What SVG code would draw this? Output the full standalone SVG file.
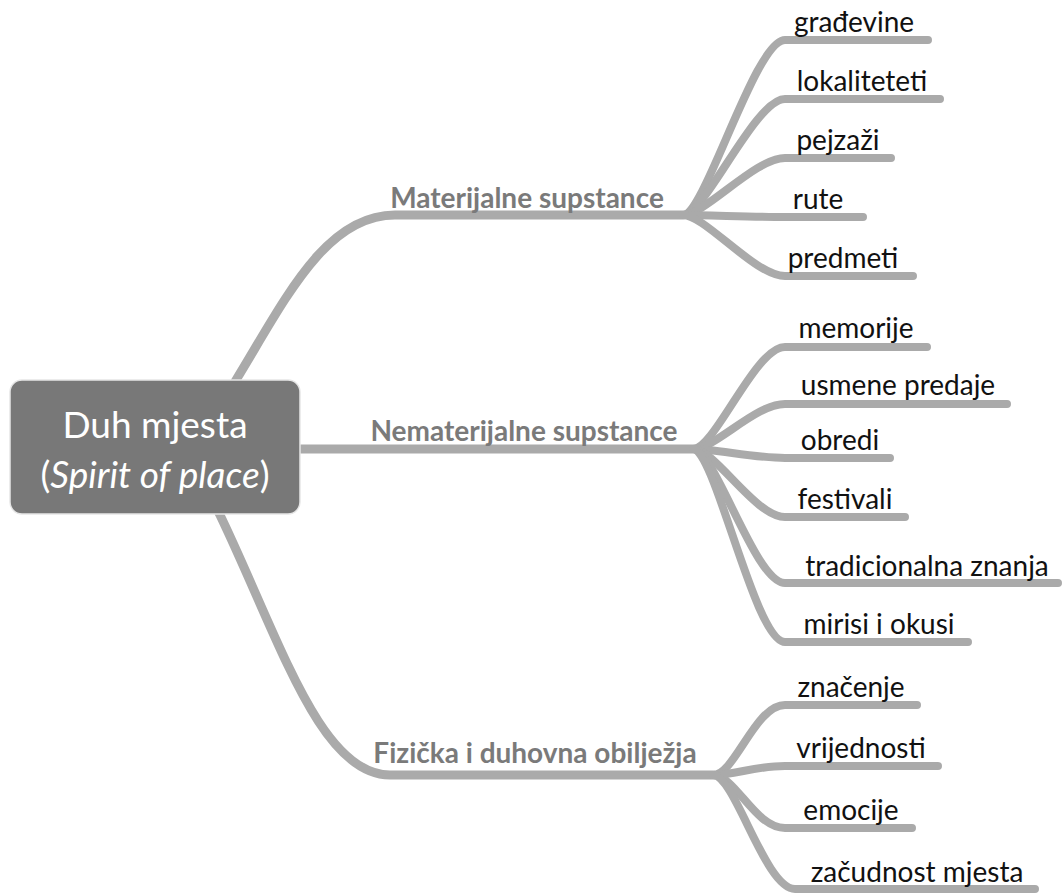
<svg xmlns="http://www.w3.org/2000/svg" width="1062" height="894" viewBox="0 0 1062 894">
<style>
.main{fill:none;stroke:#aaaaaa;stroke-width:9;stroke-linecap:round;stroke-linejoin:round}
.sub{fill:none;stroke:#aaaaaa;stroke-width:8;stroke-linecap:round;stroke-linejoin:round}
.l1{font-family:Lato,"Liberation Sans",sans-serif;font-weight:bold;font-size:28px;fill:#7a7a7a;text-anchor:middle}
.l2{font-family:Lato,"Liberation Sans",sans-serif;font-size:28px;fill:#111111;text-anchor:middle}
.root{font-family:Lato,"Liberation Sans",sans-serif;font-size:37px;fill:#ffffff;text-anchor:middle}
</style>
<rect width="1062" height="894" fill="#ffffff"/>
<g id="connectors">
<path class="main" d="M230 390 L236 380 C285 300 325 215 395 215 L683 215"/>
<path class="main" d="M290 449 L693 449"/>
<path class="main" d="M215 505 L220 515 C280 640 320 775 390 775 L713 775"/>
<path class="sub" d="M683 215 C705 215 755 40 785 40 L928 40"/>
<path class="sub" d="M683 215 C705 215 755 99 785 99 L940 99"/>
<path class="sub" d="M683 215 C705 215 755 158 785 158 L891 158"/>
<path class="sub" d="M683 215 C705 215 755 217 785 217 L863 217"/>
<path class="sub" d="M683 215 C705 215 755 276 785 276 L913 276"/>
<path class="sub" d="M693 449 C715 449 755 347 785 347 L927 347"/>
<path class="sub" d="M693 449 C715 449 755 404 785 404 L1007 404"/>
<path class="sub" d="M693 449 C715 449 755 458 785 458 L890 458"/>
<path class="sub" d="M693 449 C715 449 755 517 785 517 L905 517"/>
<path class="sub" d="M693 449 C715 449 755 583 785 583 L1058 583"/>
<path class="sub" d="M693 449 C715 449 755 642 785 642 L968 642"/>
<path class="sub" d="M713 775 C735 775 755 705 785 705 L917 705"/>
<path class="sub" d="M713 775 C735 775 755 766 785 766 L938 766"/>
<path class="sub" d="M713 775 C735 775 755 828 785 828 L912 828"/>
<path class="sub" d="M713 775 C735 775 765 889 795 889 L1035 889"/>
</g>
<g id="root">
<rect x="10" y="380" width="290" height="134" rx="12" fill="#787878" stroke="#e6e6e6" stroke-width="1.5"/>
<text class="root" x="155" y="438">Duh mjesta</text>
<text class="root" x="155" y="488">(<tspan font-style="italic">Spirit of place</tspan>)</text>
</g>
<g id="n-materijalne"><text class="l1" x="527" y="208">Materijalne supstance</text></g>
<g id="n-nematerijalne"><text class="l1" x="524" y="441">Nematerijalne supstance</text></g>
<g id="n-fizicka"><text class="l1" x="535" y="763">Fizička i duhovna obilježja</text></g>
<g id="n-gradevine"><text class="l2" x="854" y="32">građevine</text></g>
<g id="n-lokaliteteti"><text class="l2" x="862" y="91">lokaliteteti</text></g>
<g id="n-pejzazi"><text class="l2" x="838" y="150">pejzaži</text></g>
<g id="n-rute"><text class="l2" x="818" y="209">rute</text></g>
<g id="n-predmeti"><text class="l2" x="843" y="268">predmeti</text></g>
<g id="n-memorije"><text class="l2" x="856" y="338">memorije</text></g>
<g id="n-usmene"><text class="l2" x="898" y="395">usmene predaje</text></g>
<g id="n-obredi"><text class="l2" x="840" y="450">obredi</text></g>
<g id="n-festivali"><text class="l2" x="845" y="509">festivali</text></g>
<g id="n-tradicionalna"><text class="l2" x="927" y="576">tradicionalna znanja</text></g>
<g id="n-mirisi"><text class="l2" x="879" y="634">mirisi i okusi</text></g>
<g id="n-znacenje"><text class="l2" x="851" y="697">značenje</text></g>
<g id="n-vrijednosti"><text class="l2" x="861" y="758">vrijednosti</text></g>
<g id="n-emocije"><text class="l2" x="851" y="820">emocije</text></g>
<g id="n-zacudnost"><text class="l2" x="917" y="882">začudnost mjesta</text></g>
</svg>
